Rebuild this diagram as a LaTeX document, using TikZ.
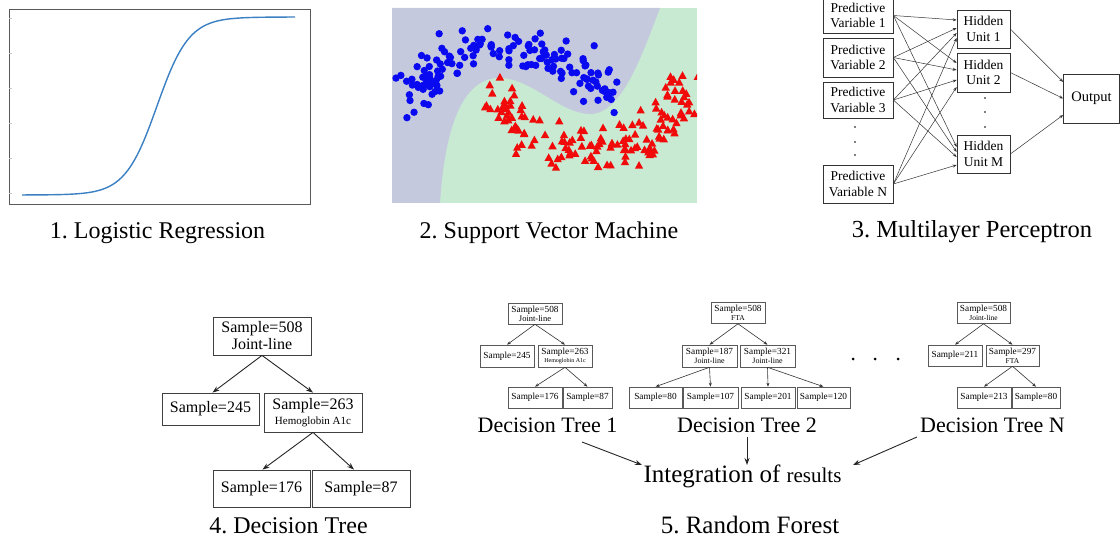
\documentclass[tikz,border=0pt]{standalone}
\usepackage{fontspec}
\setmainfont{Liberation Serif}
\usetikzlibrary{arrows.meta}
\newcommand\fsz[2]{\fontsize{#1}{#2}\selectfont}
\definecolor{svmpurple}{RGB}{197,201,222}
\definecolor{svmgreen}{RGB}{200,234,210}
\definecolor{curveblue}{RGB}{58,128,195}
\definecolor{dotblue}{RGB}{10,10,240}
\definecolor{trired}{RGB}{240,10,10}
\tikzset{
  mbox/.style={draw=black!80, line width=0.7pt, inner sep=0pt, align=center, font=\fsz{13.5}{15.5}},
  dbox/.style={draw=black!75, line width=0.8pt, inner sep=0pt, align=center, font=\fsz{16}{17}},
  fbox/.style={draw=black!65, line width=0.6pt, inner sep=0pt, align=center, minimum width=54pt, minimum height=21pt, font=\fsz{9.3}{9.8}},
  arr/.style={-{Stealth[length=7pt,width=5pt]}, line width=0.9pt, black!85},
  marr/.style={-{Stealth[length=4pt,width=3pt]}, line width=0.5pt, black!80},
  farr/.style={-{Stealth[length=4pt,width=3pt]}, line width=0.6pt, black!80},
  captxt/.style={anchor=base, font=\fsz{24}{28}},
}
\frenchspacing
\begin{document}
\frenchspacing
\begin{tikzpicture}[x=1pt,y=-1pt]
\useasboundingbox (0,0) rectangle (1120,540);
\fill[white] (0,0) rectangle (1120,540);

% ---------- Panel 1: logistic regression ----------
\draw[gray!70!black, line width=0.8pt] (9,9) rectangle (310,204);
\foreach \yy in {18,53,88,123,158,193} \draw[gray!45, line width=0.4pt] (9,\yy) -- (11.5,\yy);
\draw[curveblue, line width=1.4pt] plot[domain=22:295, samples=140, smooth] (\x, {195 - 178/(1+exp(-(\x-157)/16))});
\node[captxt] (cap1) at (157.5,239) {1. Logistic Regression};

% ---------- Panel 2: SVM ----------
\begin{scope}
\clip (392,8) rectangle (697,203);
\fill[svmgreen] (392,8) rectangle (697,203);
\fill[svmpurple] (440,203) .. controls (444,140) and (458,80) .. (497,78) .. controls (530,76) and (560,114) .. (590,114) .. controls (622,114) and (642,55) .. (660,8) -- (392,8) -- (392,203) -- cycle;
\pgfmathsetseed{21}
\foreach \i in {1,...,150}{
  \pgfmathsetmacro\angl{180*rnd}
  \pgfmathsetmacro\px{510+92*cos(\angl)+12*(rand+rand)}
  \pgfmathsetmacro\py{100-52*sin(\angl)+13*(rand+rand)}
  \fill[dotblue] (\px,\py) circle[radius=3.7];
}
\foreach \i in {1,...,150}{
  \pgfmathsetmacro\angl{180*rnd}
  \pgfmathsetmacro\px{590-92*cos(\angl)+12*(rand+rand)}
  \pgfmathsetmacro\py{88+62*sin(\angl)+13*(rand+rand)}
  \fill[trired] (\px,\py-4.6) -- (\px-4.2,\py+3) -- (\px+4.2,\py+3) -- cycle;
}
\end{scope}
\node[captxt] (cap2) at (549,239) {2. Support Vector Machine};

% ---------- Panel 3: MLP ----------
\node[mbox, minimum width=70pt, minimum height=35pt] (pv1) at (858,15.5) {Predictive\\Variable 1};
\node[mbox, minimum width=70pt, minimum height=39pt] (pv2) at (858,57.5) {Predictive\\Variable 2};
\node[mbox, minimum width=70pt, minimum height=36pt] (pv3) at (858,100) {Predictive\\Variable 3};
\node[mbox, minimum width=70pt, minimum height=38pt] (pvN) at (858,184) {Predictive\\Variable N};
\foreach \yy in {127,142,155} \fill (855,\yy) circle[radius=0.9];
\node[mbox, minimum width=53pt, minimum height=38pt] (h1) at (983.5,29) {Hidden\\Unit 1};
\node[mbox, minimum width=53pt, minimum height=39pt] (h2) at (983.5,72.5) {Hidden\\Unit 2};
\node[mbox, minimum width=53pt, minimum height=38pt] (hM) at (983.5,154) {Hidden\\Unit M};
\foreach \yy in {98,112,127} \fill (985,\yy) circle[radius=0.9];
\node[mbox, font=\fsz{14.5}{16}, minimum width=56pt, minimum height=49pt] (out) at (1091.5,98.5) {Output};
\foreach \s/\a/\b/\c in {pv1/9/9.5/7, pv2/1/2.5/2, pv3/-4/-7.5/-3, pvN/-9/-14.5/-11}{
  \draw[marr] (\s.east) -- ([yshift=\a pt]h1.west);
  \draw[marr] (\s.east) -- ([yshift=\b pt]h2.west);
  \draw[marr] (\s.east) -- ([yshift=\c pt]hM.west);
}
\draw[marr] (h1.east) -- ([yshift=16.5pt]out.west);
\draw[marr] (h2.east) -- (out.west);
\draw[marr] (hM.east) -- ([yshift=-16.5pt]out.west);
\node[captxt, font=\fsz{24.5}{28}] (cap3) at (972,238) {3. Multilayer Perceptron};

% ---------- Panel 4: Decision tree ----------
\node[dbox, minimum width=98pt, minimum height=38pt] (r4) at (262,336) {Sample=508\\Joint-line};
\node[dbox, minimum width=97pt, minimum height=32pt] (l4) at (210.5,409) {Sample=245};
\node[dbox, minimum width=98pt, minimum height=39pt] (m4) at (313,412.5) {Sample=263\\[-2pt]{\fsz{11}{12}Hemoglobin A1c}};
\node[dbox, minimum width=97pt, minimum height=37pt] (bl4) at (261.5,488.5) {Sample=176};
\node[dbox, minimum width=98pt, minimum height=37pt] (br4) at (361,488.5) {Sample=87};
\draw[arr] (r4.south) -- ([xshift=2pt]l4.north);
\draw[arr] (r4.south) -- (m4.north);
\draw[arr] (m4.south) -- ([xshift=1pt]bl4.north);
\draw[arr] (m4.south) -- ([xshift=-7pt]br4.north);
\node[captxt, font=\fsz{24}{28}] (cap4) at (288.5,533) {4. Decision Tree};

% ---------- Panel 5: Random forest ----------
% tree 1
\node[fbox] (t1r) at (535,313.5) {Sample=508\\[-1pt]{\fsz{8.5}{9}Joint-line}};
\node[fbox, minimum height=22pt] (t1a) at (507,356) {Sample=245};
\node[fbox, minimum height=22pt] (t1b) at (565,356) {Sample=263\\[-1.5pt]{\fsz{6}{6.5}Hemoglobin A1c}};
\node[fbox] (t1c) at (535,397.5) {Sample=176};
\node[fbox, minimum width=49pt] (t1d) at (587.5,397.5) {Sample=87};
\draw[farr] (t1r.south) -- (t1a.north);
\draw[farr] (t1r.south) -- (t1b.north);
\draw[farr] (t1b.south) -- (t1c.north);
\draw[farr] (t1b.south) -- (t1d.north);
\node[captxt, font=\fsz{22}{26}] (dt1) at (547.5,432) {Decision Tree 1};
% tree 2
\node[fbox] (t2r) at (738,313) {Sample=508\\[-1pt]{\fsz{7.5}{8}FTA}};
\node[fbox, minimum width=55pt, minimum height=22pt] (t2a) at (709.5,356) {Sample=187\\[-1pt]{\fsz{8}{8.5}Joint-line}};
\node[fbox, minimum width=55pt, minimum height=22pt] (t2b) at (767.5,356) {Sample=321\\[-1pt]{\fsz{8}{8.5}Joint-line}};
\node[fbox, minimum width=53pt] (t2c) at (655.5,397.5) {Sample=80};
\node[fbox, minimum width=55pt] (t2d) at (710.5,397.5) {Sample=107};
\node[fbox] (t2e) at (768,397.5) {Sample=201};
\node[fbox, minimum width=53pt] (t2f) at (823.5,397.5) {Sample=120};
\draw[farr] (t2r.south) -- (t2a.north);
\draw[farr] (t2r.south) -- (t2b.north);
\draw[farr] (t2a.south) -- (t2c.north);
\draw[farr] (t2a.south) -- (t2d.north);
\draw[farr] (t2b.south) -- (t2e.north);
\draw[farr] (t2b.south) -- (t2f.north);
\node[captxt, font=\fsz{22}{26}] (dt2) at (747,432) {Decision Tree 2};
% dots
\foreach \xx in {853,875,898} \fill (\xx,359) circle[radius=1.5];
% tree N
\node[fbox, minimum width=53pt] (tnr) at (983.5,313) {Sample=508\\[-1pt]{\fsz{7.5}{8}Joint-line}};
\node[fbox] (tna) at (955,355.5) {Sample=211};
\node[fbox, minimum width=53pt] (tnb) at (1012.5,355.5) {Sample=297\\[-1pt]{\fsz{7.5}{8}FTA}};
\node[fbox] (tnc) at (984,397.5) {Sample=213};
\node[fbox, minimum width=48pt] (tnd) at (1036,397.5) {Sample=80};
\draw[farr] (tnr.south) -- (tna.north);
\draw[farr] (tnr.south) -- (tnb.north);
\draw[farr] (tnb.south) -- (tnc.north);
\draw[farr] (tnb.south) -- (tnd.north);
\node[captxt, font=\fsz{22}{26}] (dtN) at (992.5,432) {Decision Tree N};
% integration
\node[anchor=base] (integ) at (742.5,482) {\fsz{25}{28}Integration of \fsz{21}{24}results};
\coordinate (s1) at (582,442);
\coordinate (e1) at (642,465);
\coordinate (s2) at (747,437);
\coordinate (e2) at (747,465);
\coordinate (s3) at (917,437);
\coordinate (e3) at (853,465);
\draw[arr] (s1) -- (e1);
\draw[arr] (s2) -- (e2);
\draw[arr] (s3) -- (e3);
\node[captxt, font=\fsz{25}{28}] (cap5) at (750,533) {5. Random Forest};
\end{tikzpicture}
\end{document}
